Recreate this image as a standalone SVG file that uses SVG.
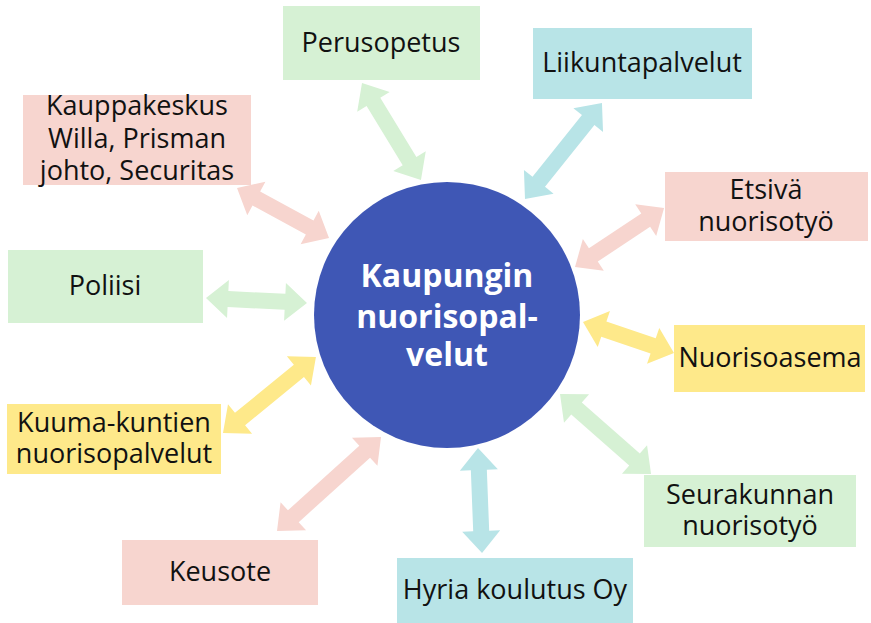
<svg xmlns="http://www.w3.org/2000/svg" width="871" height="623" viewBox="0 0 871 623">
<style>
.t{font-family:"Open Sans","Noto Sans","DejaVu Sans",sans-serif;font-size:27px;fill:#111;text-anchor:middle}
.c{font-family:"Open Sans","Noto Sans","DejaVu Sans",sans-serif;font-size:32px;font-weight:bold;fill:#fff;text-anchor:middle}
.g{fill:#d6f1d4}.b{fill:#b8e4e7}.p{fill:#f7d5cf}.y{fill:#fee98a}
</style>
<rect width="871" height="623" fill="#fff"/>
<g id="connectors">
<path class="g" transform="translate(362,83) rotate(58.7)" d="M0,0 L22,-19 L22,-8 L91.5,-8 L91.5,-19 L113.5,0 L91.5,19 L91.5,8 L22,8 L22,19 Z"/>
<path class="b" transform="translate(525,199) rotate(-51.3)" d="M0,0 L22,-19 L22,-8 L101.1,-8 L101.1,-19 L123.1,0 L101.1,19 L101.1,8 L22,8 L22,19 Z"/>
<path class="p" transform="translate(575,267) rotate(-33.5)" d="M0,0 L22,-19 L22,-8 L84.8,-8 L84.8,-19 L106.8,0 L84.8,19 L84.8,8 L22,8 L22,19 Z"/>
<path class="p" transform="translate(237,188) rotate(28.5)" d="M0,0 L22,-19 L22,-8 L82.7,-8 L82.7,-19 L104.7,0 L82.7,19 L82.7,8 L22,8 L22,19 Z"/>
<path class="g" transform="translate(206,298) rotate(2.8)" d="M0,0 L22,-19 L22,-8 L79.1,-8 L79.1,-19 L101.1,0 L79.1,19 L79.1,8 L22,8 L22,19 Z"/>
<path class="y" transform="translate(223,433) rotate(-39.3)" d="M0,0 L22,-19 L22,-8 L98.1,-8 L98.1,-19 L120.1,0 L98.1,19 L98.1,8 L22,8 L22,19 Z"/>
<path class="p" transform="translate(277,531) rotate(-42.1)" d="M0,0 L22,-19 L22,-8 L118.2,-8 L118.2,-19 L140.2,0 L118.2,19 L118.2,8 L22,8 L22,19 Z"/>
<path class="b" transform="translate(478,448) rotate(87.8)" d="M0,0 L22,-19 L22,-8 L83.1,-8 L83.1,-19 L105.1,0 L83.1,19 L83.1,8 L22,8 L22,19 Z"/>
<path class="g" transform="translate(560,394) rotate(41.3)" d="M0,0 L22,-19 L22,-8 L99.2,-8 L99.2,-19 L121.2,0 L99.2,19 L99.2,8 L22,8 L22,19 Z"/>
<path class="y" transform="translate(583,322) rotate(18.8)" d="M0,0 L22,-19 L22,-8 L74.1,-8 L74.1,-19 L96.1,0 L74.1,19 L74.1,8 L22,8 L22,19 Z"/>
</g>
<g id="center">
<circle cx="447" cy="315" r="133" fill="#3f57b5"/>
<text class="c" x="447" y="287">Kaupungin</text>
<text class="c" x="447" y="328">nuorisopal-</text>
<text class="c" x="447" y="366">velut</text>
</g>
<g id="perusopetus"><rect class="g" x="283" y="6" width="197" height="74"/><text class="t" x="381" y="52">Perusopetus</text></g>
<g id="liikuntapalvelut"><rect class="b" x="533" y="28" width="219" height="71"/><text class="t" x="642" y="72">Liikuntapalvelut</text></g>
<g id="etsiva"><rect class="p" x="665" y="172" width="203" height="69"/><text class="t" x="766" y="199">Etsivä</text><text class="t" x="766" y="231">nuorisotyö</text></g>
<g id="kauppakeskus"><rect class="p" x="23" y="95" width="228" height="90"/><text class="t" x="137" y="115">Kauppakeskus</text><text class="t" x="137" y="148">Willa, Prisman</text><text class="t" x="137" y="180">johto, Securitas</text></g>
<g id="poliisi"><rect class="g" x="8" y="250" width="195" height="73"/><text class="t" x="105" y="295">Poliisi</text></g>
<g id="nuorisoasema"><rect class="y" x="674" y="325" width="191" height="67"/><text class="t" x="770" y="367">Nuorisoasema</text></g>
<g id="kuuma"><rect class="y" x="7" y="404" width="214" height="70"/><text class="t" x="114" y="432">Kuuma-kuntien</text><text class="t" x="114" y="463">nuorisopalvelut</text></g>
<g id="seurakunnan"><rect class="g" x="644" y="475" width="212" height="72"/><text class="t" x="750" y="504">Seurakunnan</text><text class="t" x="750" y="535">nuorisotyö</text></g>
<g id="keusote"><rect class="p" x="122" y="540" width="196" height="65"/><text class="t" x="220" y="581">Keusote</text></g>
<g id="hyria"><rect class="b" x="397" y="558" width="236" height="65"/><text class="t" x="515" y="599">Hyria koulutus Oy</text></g>
</svg>
